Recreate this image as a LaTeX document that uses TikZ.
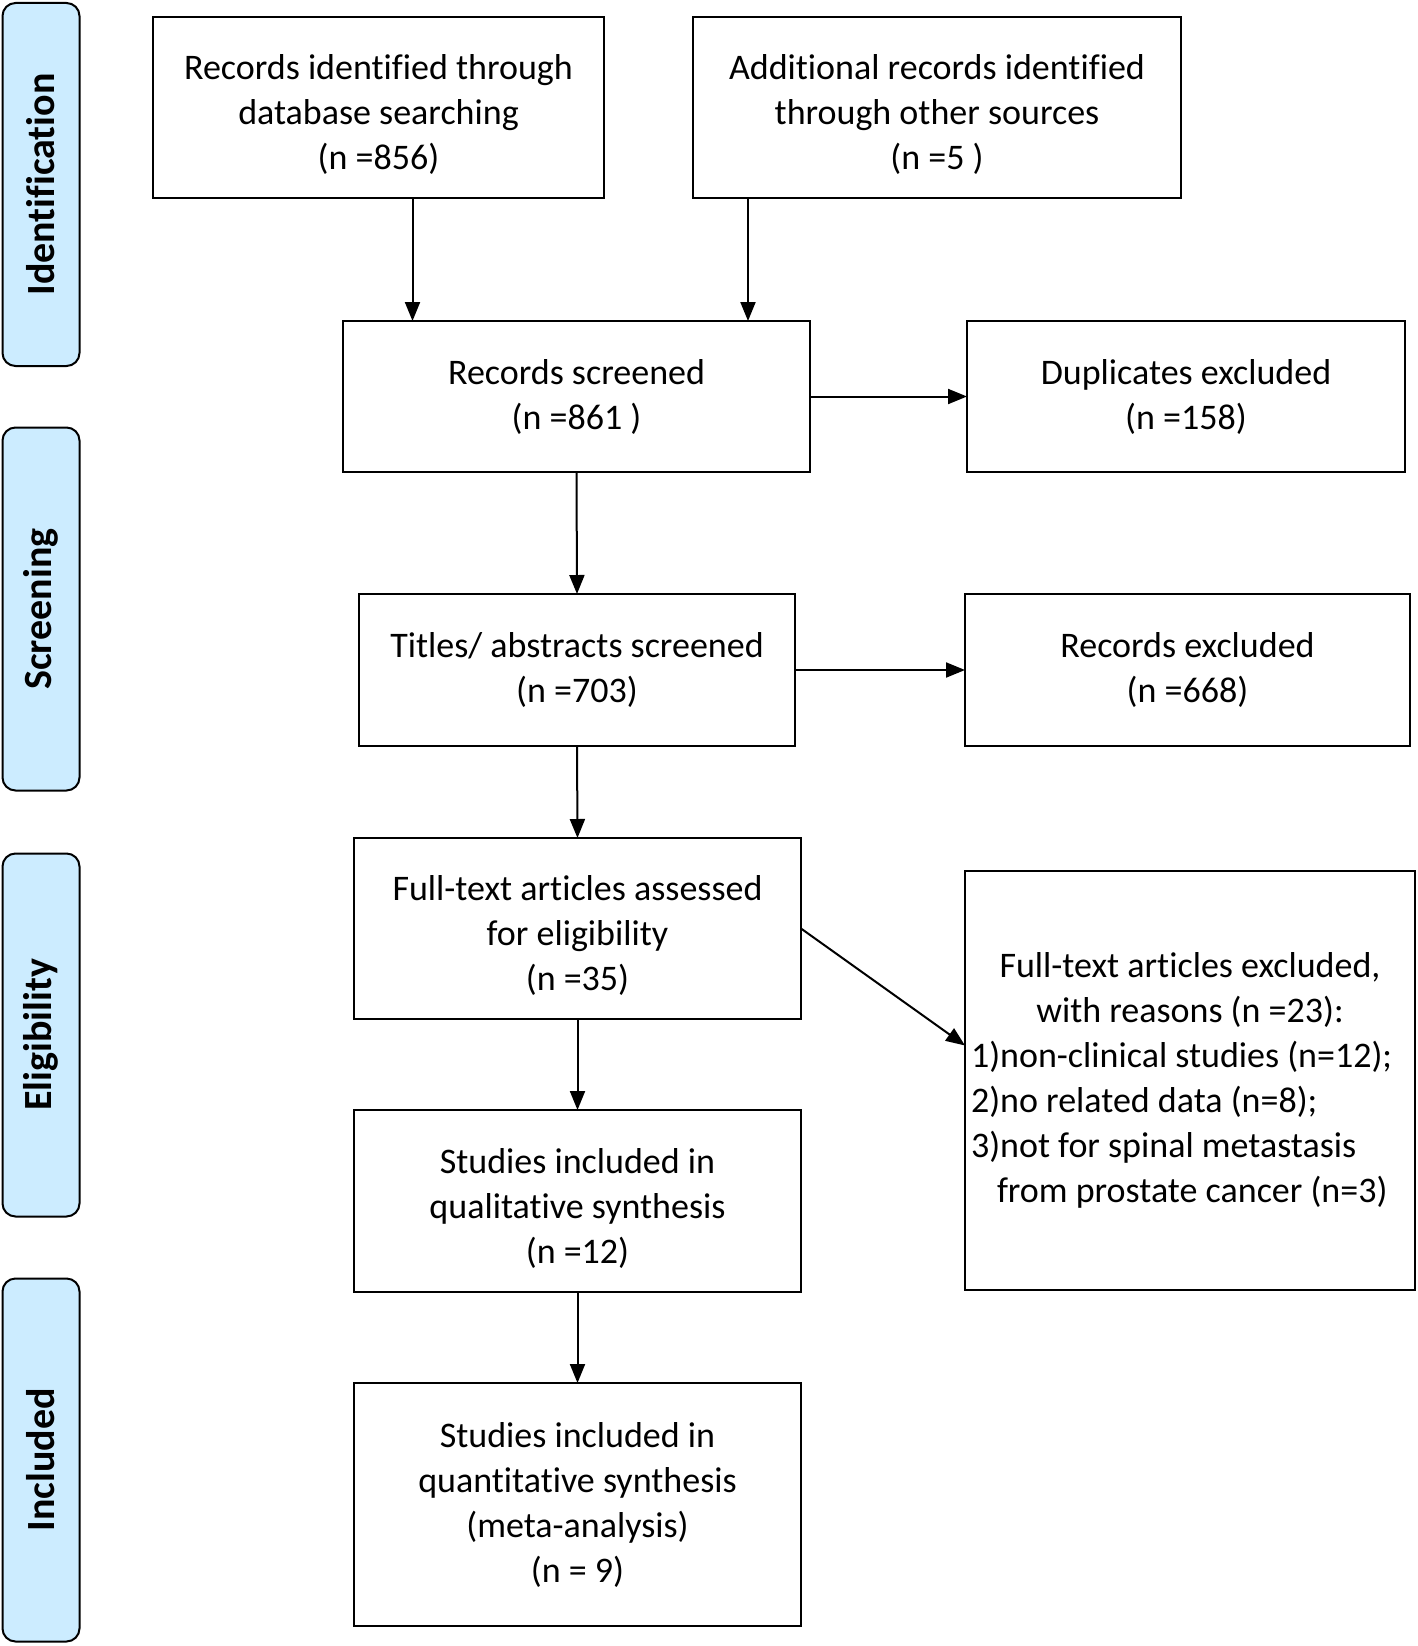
\documentclass[tikz,border=0pt]{standalone}
\usepackage{fontspec}
\setmainfont[Ligatures=NoCommon]{Carlito}
\usetikzlibrary{arrows.meta}
\definecolor{barblue}{RGB}{204,236,255}
\newcommand{\topstrut}{\rule{0pt}{39pt}}
\begin{document}
\begin{tikzpicture}[x=1pt,y=-1pt,
  box/.style={draw=black,line width=2.2pt,inner sep=0pt,outer sep=0pt,align=center,
    font=\fontsize{36}{45}\selectfont},
  bar/.style={draw=black,fill=barblue,line width=2pt,rounded corners=13pt,inner sep=0pt,outer sep=0pt,
    minimum width=77pt,minimum height=363pt},
  barlabel/.style={rotate=90,font=\fontsize{40}{48}\selectfont\bfseries},
  arr/.style={line width=2pt,-{Triangle[length=19pt,width=15pt]}}]
\useasboundingbox (0,0) rectangle (1418,1646);
% side bars
\node[bar] (b1) at (41,184.5) {};
\node[barlabel] (l1) at (b1.center) {Identification};
\node[bar] (b2) at (41,609) {};
\node[barlabel] (l2) at (b2.center) {Screening};
\node[bar] (b3) at (41,1035) {};
\node[barlabel] (l3) at (b3.center) {Eligibility};
\node[bar] (b4) at (41,1460) {};
\node[barlabel] (l4) at (b4.center) {Included};
% boxes
\node[box,minimum width=451pt,minimum height=181pt] (A) at (378.5,107.5)
  {\topstrut Records identified through\\database searching\\(n =856)};
\node[box,minimum width=488pt,minimum height=181pt] (B) at (937,107.5)
  {\topstrut Additional records identified\\through other sources\\(n =5 )};
\node[box,minimum width=467pt,minimum height=151pt] (S) at (576.5,396.5)
  {Records screened\\(n =861 )};
\node[box,minimum width=438pt,minimum height=151pt] (D) at (1186,396.5)
  {Duplicates excluded\\(n =158)};
\node[box,minimum width=436pt,minimum height=152pt] (T) at (577,670)
  {Titles/ abstracts screened\\(n =703)};
\node[box,minimum width=445pt,minimum height=152pt] (R) at (1187.5,670)
  {Records excluded\\(n =668)};
\node[box,minimum width=447pt,minimum height=181pt] (F) at (577.5,928.5)
  {\topstrut Full-text articles assessed\\for eligibility\\(n =35)};
\node[box,minimum width=450pt,minimum height=419pt,align=flush left,text width=438pt,inner xsep=6pt] (E) at (1190,1080.5)
  {\makebox[\linewidth]{Full-text articles excluded,}\\
   \makebox[\linewidth]{with reasons (n =23):}\\
   1)non-clinical studies (n=12);\\
   2)no related data (n=8);\\
   3)not for spinal metastasis\\
   \hspace*{26pt}from prostate cancer (n=3)};
\node[box,minimum width=447pt,minimum height=182pt] (Q) at (577.5,1201)
  {\topstrut Studies included in\\qualitative synthesis\\(n =12)};
\node[box,minimum width=447pt,minimum height=243pt] (M) at (577.5,1504.5)
  {Studies included in\\quantitative synthesis\\(meta-analysis)\\(n = 9)};
% connectors
\coordinate (xa) at (412.5,0);
\coordinate (xb) at (748,0);
\draw[arr] (A.south -| xa) -- (S.north -| xa);
\draw[arr] (B.south -| xb) -- (S.north -| xb);
\draw[arr] (S.east) -- (D.west);
\draw[arr] (S.south) -- (T.north);
\draw[arr] (T.east) -- (R.west);
\draw[arr] (T.south) -- (F.north);
\draw[arr] (F.east) -- ([yshift=35pt]E.west);
\draw[arr] (F.south) -- (Q.north);
\draw[arr] (Q.south) -- (M.north);
\end{tikzpicture}
\end{document}
